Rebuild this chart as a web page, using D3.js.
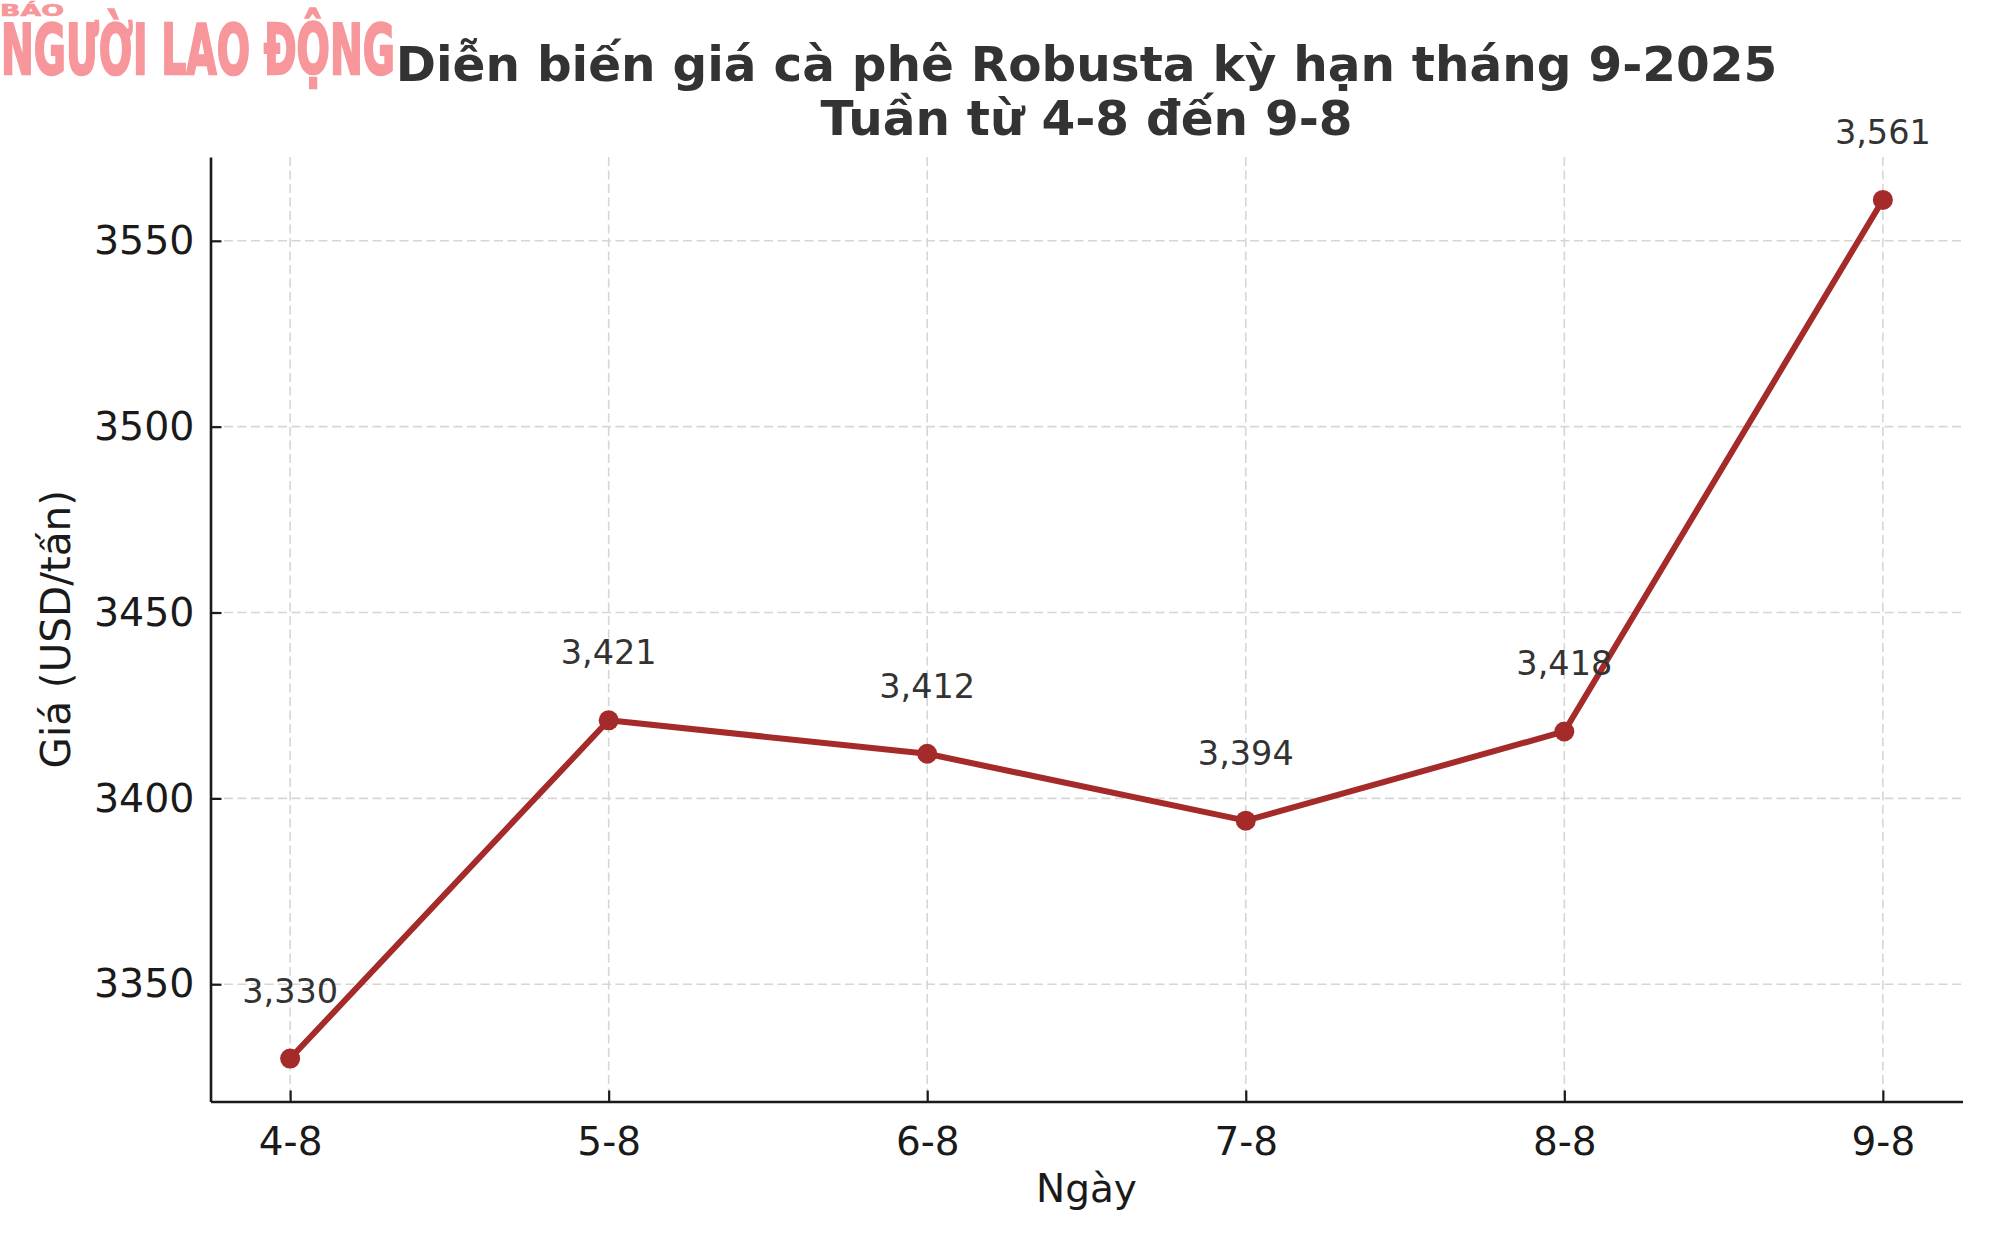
<!DOCTYPE html>
<html>
<head>
<meta charset="utf-8">
<script src="https://cdn.jsdelivr.net/npm/d3@7"></script>
<style>
  html, body { margin: 0; padding: 0; background: #fff; }
  svg { display: block; }
  text { font-family: "DejaVu Sans", sans-serif; }
</style>
</head>
<body>
<svg id="chart" width="2000" height="1250"></svg>
<script>
const categories = ["4-8", "5-8", "6-8", "7-8", "8-8", "9-8"];
const prices = [3330, 3421, 3412, 3394, 3418, 3561];
const yTicks = [3350, 3400, 3450, 3500, 3550];
const titleLines = ["Diễn biến giá cà phê Robusta kỳ hạn tháng 9-2025", "Tuần từ 4-8 đến 9-8"];
const xLabel = "Ngày";
const yLabel = "Giá (USD/tấn)";

(function () {
const svg = d3.select("#chart");
const W = 2000, H = 1250;
const pLeft = 210.5, pRight = 1962.5, pTop = 157, pBottom = 1101.5;

svg.append("rect").attr("width", W).attr("height", H).attr("fill", "#fff");

const x = d3.scalePoint().domain(categories).range([pLeft, pRight]).padding(0.25);
const yMin = d3.min(prices), yMax = d3.max(prices);
const pad = (yMax - yMin) * 0.05;
const y = d3.scaleLinear().domain([yMin - pad, yMax + pad]).range([pBottom, pTop]);

// grid
const grid = svg.append("g");
grid.selectAll("line.v").data(categories).join("line").attr("class", "v")
  .attr("x1", d => x(d)).attr("x2", d => x(d))
  .attr("y1", pTop).attr("y2", pBottom)
  .attr("stroke", "#d6d6d6").attr("stroke-width", 1.6).attr("stroke-dasharray", "9,4.5");
grid.selectAll("line.h").data(yTicks).join("line").attr("class", "h")
  .attr("x1", pLeft).attr("x2", pRight)
  .attr("y1", d => y(d)).attr("y2", d => y(d))
  .attr("stroke", "#d6d6d6").attr("stroke-width", 1.6).attr("stroke-dasharray", "9,4.5");

// axes
const xAxis = d3.axisBottom(x).tickSizeInner(-11).tickSizeOuter(0).tickPadding(26);
const gx = svg.append("g").attr("transform", `translate(0,${pBottom})`).call(xAxis);
gx.select(".domain").attr("stroke", "#1a1a1a").attr("stroke-width", 2.6);
gx.selectAll(".tick line").attr("stroke", "#1a1a1a").attr("stroke-width", 2.2);
gx.selectAll(".tick text").attr("font-size", 39).attr("fill", "#1a1a1a")
  .attr("font-family", "DejaVu Sans").attr("dy", "0.71em");

const yAxis = d3.axisLeft(y).tickValues(yTicks).tickFormat(d3.format("d"))
  .tickSizeInner(-11).tickSizeOuter(0).tickPadding(16);
const gy = svg.append("g").attr("transform", `translate(${pLeft},0)`).call(yAxis);
gy.select(".domain").attr("stroke", "#1a1a1a").attr("stroke-width", 2.6);
gy.selectAll(".tick line").attr("stroke", "#1a1a1a").attr("stroke-width", 2.2);
gy.selectAll(".tick text").attr("font-size", 39.5).attr("fill", "#1a1a1a")
  .attr("font-family", "DejaVu Sans");

// axis labels
svg.append("text").attr("x", (pLeft + pRight) / 2).attr("y", 1202)
  .attr("text-anchor", "middle").attr("font-size", 39).attr("fill", "#1a1a1a").text(xLabel);
svg.append("text").attr("transform", `translate(70,${(pTop + pBottom) / 2}) rotate(-90)`)
  .attr("text-anchor", "middle").attr("font-size", 40.5).attr("fill", "#1a1a1a").text(yLabel);

// line
const line = d3.line().x((d, i) => x(categories[i])).y(d => y(d));
svg.append("path").datum(prices).attr("d", line)
  .attr("fill", "none").attr("stroke", "#a52a2a").attr("stroke-width", 6)
  .attr("stroke-linejoin", "round");
svg.selectAll("circle.pt").data(prices).join("circle").attr("class", "pt")
  .attr("cx", (d, i) => x(categories[i])).attr("cy", d => y(d)).attr("r", 10)
  .attr("fill", "#a52a2a");

// data labels
const fmt = d3.format(",");
svg.selectAll("text.lbl").data(prices).join("text").attr("class", "lbl")
  .attr("x", (d, i) => x(categories[i])).attr("y", d => y(d) - 56)
  .attr("text-anchor", "middle").attr("font-size", 33.5).attr("fill", "#333")
  .text(d => fmt(d));

// logo
svg.append("text").attr("x", 0).attr("y", 16).attr("font-size", 16).attr("font-weight", "bold")
  .attr("fill", "#f7969b").attr("stroke", "#f7969b").attr("stroke-width", 0.6)
  .attr("textLength", 64).attr("lengthAdjust", "spacingAndGlyphs").text("BÁO");
svg.append("text").attr("x", 1).attr("y", 74).attr("font-size", 69).attr("font-weight", "bold")
  .attr("font-family", "DejaVu Sans Condensed, DejaVu Sans").attr("fill", "#f7969b")
  .attr("stroke", "#f7969b").attr("stroke-width", 2.5).attr("stroke-linejoin", "miter")
  .attr("textLength", 394).attr("lengthAdjust", "spacingAndGlyphs").text("NGƯỜI LAO ĐỘNG");

// title
const title = svg.append("text").attr("text-anchor", "middle").attr("font-size", 48.5)
  .attr("font-weight", "bold").attr("fill", "#333");
titleLines.forEach((t, i) => {
  title.append("tspan").attr("x", (pLeft + pRight) / 2).attr("y", 81 + i * 54).text(t);
});
})();
</script>
</body>
</html>
